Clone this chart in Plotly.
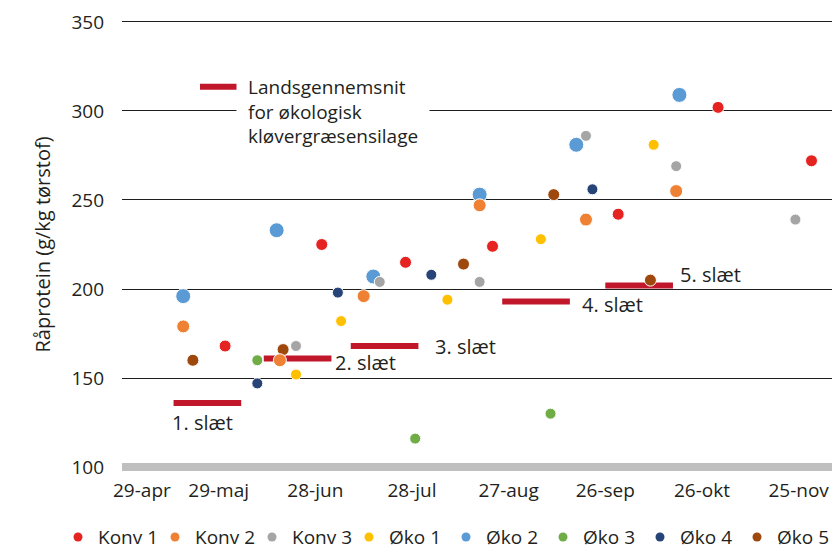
import plotly.graph_objects as go
import pandas as pd

# ---------------- data ----------------
base_date = pd.Timestamp("2014-04-29")

series_names = ["Konv 1", "Konv 2", "Konv 3", "Øko 1", "Øko 2", "Øko 3", "Øko 4", "Øko 5"]

# days after 29-apr and raw protein (g/kg DM)
konv1_day = [32, 62, 88, 115, 154, 185, 214]
konv1_val = [168, 225, 215, 224, 242, 302, 272]
konv2_day = [19, 49, 75, 111, 144, 172]
konv2_val = [179, 160, 196, 247, 239, 255]
konv3_day = [54, 80, 111, 144, 172, 209]
konv3_val = [168, 204, 204, 286, 269, 239]
oko1_day = [54, 68, 101, 130, 165]
oko1_val = [152, 182, 194, 228, 281]
oko2_day = [19, 48, 78, 111, 141, 173]
oko2_val = [196, 233, 207, 253, 281, 309]
oko3_day = [42, 91, 133]
oko3_val = [160, 116, 130]
oko4_day = [42, 67, 96, 146]
oko4_val = [147, 198, 208, 256]
oko5_day = [22, 50, 106, 134, 164]
oko5_val = [160, 166, 214, 253, 205]

# national average for organic clover-grass silage, per cut
cut_labels = ["1. slæt", "2. slæt", "3. slæt", "4. slæt", "5. slæt"]
cut_start_day = [16, 44, 71, 118, 150]
cut_end_day = [37, 65, 92, 139, 171]
cut_val = [136, 161, 168, 193, 202]

tick_days = [0, 30, 60, 90, 120, 150, 180, 210]
tick_labels = ["29-apr", "29-maj", "28-jun", "28-jul", "27-aug", "26-sep", "26-okt", "25-nov"]
y_ticks = [100, 150, 200, 250, 300, 350]

# ---------------- styles ----------------
colors = ["#E52421", "#EE8133", "#A5A5A5", "#FFC000", "#5B9BD5", "#70AD47", "#264478", "#9E480E"]
sizes = [12, 13, 11, 11, 15, 11, 11, 12]
draw_order = [3, 4, 5, 6, 7, 0, 1, 2]
FONT = "Open Sans"
TXT = "#231F20"
BAR = "#C0172B"


def to_date(d):
    return base_date + pd.Timedelta(days=d)


series_days = [konv1_day, konv2_day, konv3_day, oko1_day, oko2_day, oko3_day, oko4_day, oko5_day]
series_vals = [konv1_val, konv2_val, konv3_val, oko1_val, oko2_val, oko3_val, oko4_val, oko5_val]

fig = go.Figure()

# average bars
bx, by = [], []
for s, e, v in zip(cut_start_day, cut_end_day, cut_val):
    bx += [to_date(s), to_date(e), None]
    by += [v, v, None]
fig.add_trace(go.Scatter(x=bx, y=by, mode="lines", line=dict(color=BAR, width=6),
                         showlegend=False, name="Landsgennemsnit", hoverinfo="skip"))

for i in draw_order:
    fig.add_trace(go.Scatter(
        x=[to_date(d) for d in series_days[i]], y=series_vals[i], mode="markers",
        name=series_names[i], showlegend=False,
        marker=dict(color=colors[i], size=sizes[i], line=dict(color="white", width=1)),
    ))
# legend entries (small symbols)
for i in range(len(series_names)):
    fig.add_trace(go.Scatter(
        x=[None], y=[None], mode="markers", name=series_names[i], showlegend=True,
        marker=dict(color=colors[i], size=9),
    ))

# geometry: the page adds an 8px body margin; keep the figure inside the visible area
OFF = 8
W, H = 840 - 2 * OFF, 551 - OFF
# plot area in screen pixels
L, R = 122, 832
YMIN, YMAX = 95, 355
TOP, BOT = 13.1, 475.9
PX_PER_DAY = 3.222
pw = R - L
ph = BOT - TOP


def px_x(p):
    return (p - L) / pw


def px_y(p):
    return (BOT - p) / ph


x_end = base_date + pd.Timedelta(days=pw / PX_PER_DAY)

shapes = [
    dict(type="line", xref="paper", yref="y", x0=0, x1=1, y0=100, y1=100,
         line=dict(color="#BFBFBF", width=8), layer="above"),
    dict(type="line", xref="paper", yref="paper", x0=px_x(200), x1=px_x(238),
         y0=px_y(86.7), y1=px_y(86.7), line=dict(color=BAR, width=6)),
]

annotations = [
    dict(xref="paper", yref="paper", x=px_x(236), y=px_y(111.5), xanchor="left", yanchor="middle",
         text="Landsgennemsnit<br>for økologisk<br>kløvergræsensilage", align="left", showarrow=False,
         bgcolor="white", borderpad=11, font=dict(family=FONT, size=19, color=TXT)),
    # first date label sits inside the plot edge (as in the original)
    dict(xref="x", yref="paper", x=to_date(tick_days[0]), y=0, xanchor="left", yanchor="middle",
         xshift=-11, yshift=-14, text=tick_labels[0], showarrow=False,
         font=dict(family=FONT, size=19, color=TXT)),
]
label_shift = [(-4, -20), (2, -4), (15, 0), (10, -3), (5, 11)]
for k, lab in enumerate(cut_labels):
    if k == 0:
        xx = to_date(cut_start_day[k])
    else:
        xx = to_date(cut_end_day[k])
    annotations.append(dict(x=xx, y=cut_val[k], xref="x", yref="y", text=lab, showarrow=False,
                            xanchor="left", yanchor="middle", xshift=label_shift[k][0],
                            yshift=label_shift[k][1], font=dict(family=FONT, size=20, color=TXT)))

fig.update_layout(
    width=W, height=H,
    margin=dict(l=L - OFF, r=W - (R - OFF), t=TOP - OFF, b=H - (BOT - OFF), autoexpand=False),
    paper_bgcolor="white", plot_bgcolor="white",
    font=dict(family=FONT, size=19, color=TXT),
    xaxis=dict(range=[base_date, x_end], tickvals=[to_date(d) for d in tick_days[1:]],
               ticktext=tick_labels[1:],
               showgrid=False, zeroline=False, showline=False, ticks="", ticklabelstandoff=1,
               tickfont=dict(family=FONT, size=19, color=TXT), automargin=False),
    yaxis=dict(range=[YMIN, YMAX], tickvals=y_ticks, showgrid=True, gridcolor="#1E1E1E", gridwidth=1.4,
               zeroline=False, showline=False, ticks="", ticklabelstandoff=17,
               tickfont=dict(family=FONT, size=19, color=TXT), automargin=False,
               title=dict(text="Råprotein (g/kg tørstof)", standoff=15,
                          font=dict(family=FONT, size=20, color=TXT))),
    legend=dict(orientation="h", x=px_x(58), y=px_y(537), xanchor="left", yanchor="middle",
                font=dict(family=FONT, size=19, color=TXT), entrywidth=52, entrywidthmode="pixels",
                bgcolor="rgba(0,0,0,0)", itemclick=False),
    shapes=shapes,
    annotations=annotations,
)

fig.write_html("out.html")
